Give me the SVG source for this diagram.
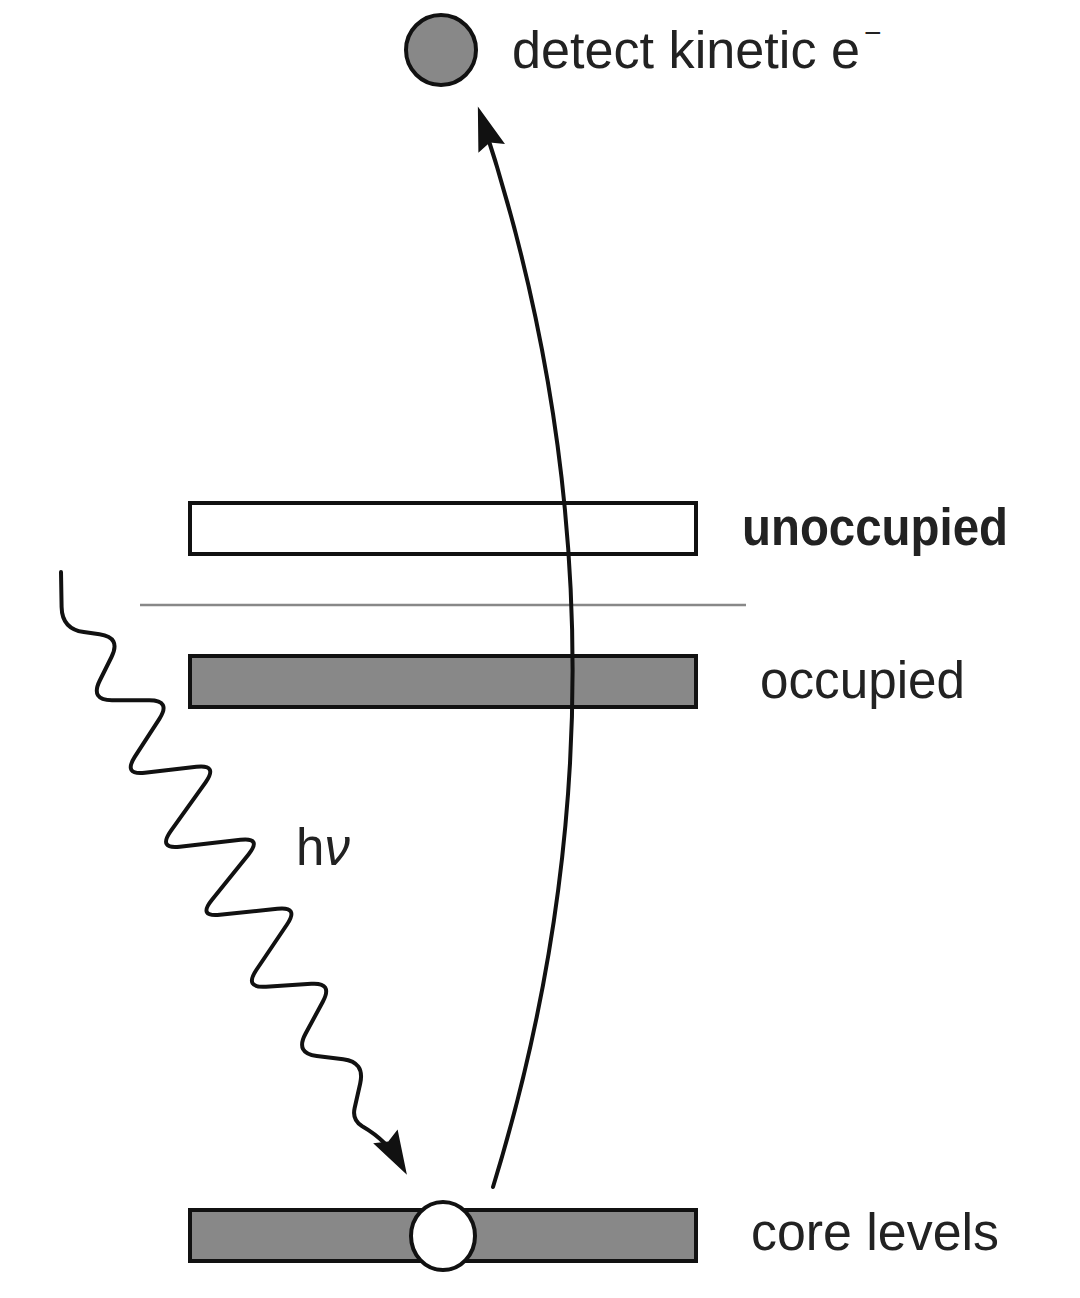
<svg xmlns="http://www.w3.org/2000/svg" width="1080" height="1298" viewBox="0 0 1080 1298">
<style>
.bar{stroke:#111;stroke-width:4}
.occ{fill:#888}
.emp{fill:#fff}
.lbl{font-family:"Liberation Sans",Arial,Helvetica,sans-serif;font-size:51px;fill:#222}
.conn{fill:none;stroke:#111;stroke-width:4;stroke-linecap:round;stroke-linejoin:round}
</style>
<defs>
<marker id="ah" markerUnits="userSpaceOnUse" viewBox="-40 -18 54 36" markerWidth="54" markerHeight="36" refX="0" refY="0" orient="auto">
<path d="M10,0 L-34,-14 L-28,0 L-34,14 Z" fill="#111"/>
</marker>
</defs>
<rect width="1080" height="1298" fill="#fff"/>
<line x1="140" y1="605" x2="746" y2="605" stroke="#888" stroke-width="2.5"/>
<g id="unoccupied">
<rect class="bar emp" x="190" y="503" width="506" height="51"/>
<text class="lbl" x="742" y="545" font-weight="bold" textLength="266" lengthAdjust="spacingAndGlyphs">unoccupied</text>
</g>
<g id="occupied">
<rect class="bar occ" x="190" y="656" width="506" height="51"/>
<text class="lbl" x="760" y="698" textLength="205" lengthAdjust="spacingAndGlyphs">occupied</text>
</g>
<g id="core">
<rect class="bar occ" x="190" y="1210" width="506" height="51"/>
<text class="lbl" x="751" y="1250" textLength="248" lengthAdjust="spacingAndGlyphs">core levels</text>
</g>
<g id="connectors">
<path class="conn" d="M493,1187 Q658,651 481,116" marker-end="url(#ah)"/>
<path class="conn" d="M61,572 L61.6,607 Q62,629 83.8,632.1 L99.5,634.2 Q121.3,637.3 111.5,657 L99.8,680.5 Q90,700.2 112,700.2 L149.3,700.3 Q171.3,700.3 159.4,718.8 L134.9,756.7 Q123,775.2 144.9,772.7 L196.4,766.8 Q218.3,764.3 205.6,782.3 L170.7,831.2 Q158,849.2 179.8,846.7 L240.5,839.8 Q262.3,837.3 248.5,854.4 L211.8,900.1 Q198,917.2 219.9,914.8 L277.4,908.7 Q299.3,906.3 287,924.5 L256.3,970 Q244,988.2 266,986.7 L311.3,983.8 Q333.3,982.3 322.8,1001.7 L305.5,1033.8 Q295,1053.2 316.8,1056 L343.2,1059.2 Q365,1062 360.2,1083.5 L354.6,1108.3 Q352,1120 362.2,1126.2 Q388,1141 402,1166" marker-end="url(#ah)"/>
</g>
<g id="hole">
<ellipse cx="443" cy="1236" rx="32" ry="34" fill="#fff" stroke="#111" stroke-width="4"/>
</g>
<g id="photon-label">
<text class="lbl" x="296" y="865" font-size="50">h<tspan font-style="italic">ν</tspan></text>
</g>
<g id="electron">
<circle cx="441" cy="50" r="35" fill="#888" stroke="#111" stroke-width="4"/>
<text class="lbl" x="512" y="68"><tspan textLength="348" lengthAdjust="spacingAndGlyphs">detect kinetic e</tspan><tspan x="864" y="43" font-size="30">−</tspan></text>
</g>
</svg>
